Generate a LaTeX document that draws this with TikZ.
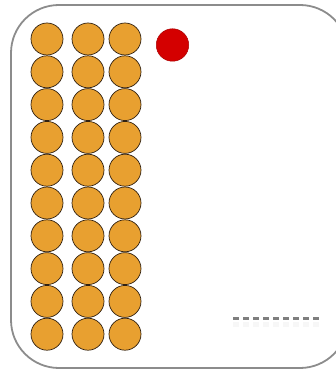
\documentclass[tikz,border=0pt]{standalone}
\usetikzlibrary{calc}
\definecolor{ballorange}{HTML}{E8A030}
\definecolor{ballred}{HTML}{D40000}
\definecolor{framegray}{HTML}{8C8C8C}
\tikzset{
  ball/.style={circle,draw=black!75!brown,line width=0.7pt,fill=ballorange,minimum size=32pt,inner sep=0pt},
  redball/.style={circle,draw=ballred!80!black,line width=0.5pt,fill=ballred,minimum size=32.5pt,inner sep=0pt},
  frame/.style={draw=framegray,line width=1.8pt,rounded corners=48pt},
  dashline/.style={draw=framegray!90!black,line width=3pt,dash pattern=on 6pt off 4pt}
}
\begin{document}
\begin{tikzpicture}[x=1pt,y=-1pt]
\useasboundingbox (0,0) rectangle (335,371);
\draw[frame] (11,5) rectangle (348,368);
\foreach \c/\x in {1/47,2/88,3/125}{
  \foreach \r in {1,...,10}{
    \node[ball] (b\c\r) at (\x,{39+(\r-1)*32.8}) {};
  }
}
\node[redball] (red) at (172.5,45) {};
\coordinate (d1) at (233,318);
\coordinate (d2) at (320,318);
\draw[draw=black!5,line width=5pt,dash pattern=on 6pt off 4pt,opacity=0.6] ($(d1)+(0,6)$) -- ($(d2)+(0,6)$);
\draw[dashline] (d1) -- (d2);
\end{tikzpicture}
\end{document}
